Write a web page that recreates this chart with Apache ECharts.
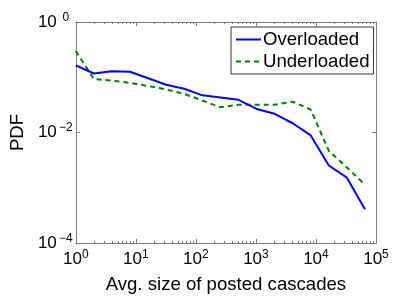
<!DOCTYPE html>
<html>
<head>
<meta charset="utf-8">
<script src="https://cdn.jsdelivr.net/npm/echarts@6/dist/echarts.min.js"></script>
<style>html,body{margin:0;padding:0;background:#fff}#c{width:415px;height:299px}</style>
</head>
<body>
<div id="c"></div>
<script>
// ---- data ----
const sizes = [1, 2, 4, 8, 16, 32, 64, 128, 256, 512, 1024, 2048, 4096, 8192, 16384, 32768, 65536];
const overloaded = [0.164, 0.117, 0.129, 0.126, 0.096, 0.073, 0.062, 0.047, 0.043, 0.039, 0.0267, 0.0218, 0.0147, 0.00886, 0.00253, 0.00152, 0.00041];
const underloaded = [0.298, 0.093, 0.087, 0.079, 0.0695, 0.060, 0.050, 0.038, 0.0286, 0.0319, 0.0319, 0.0319, 0.036, 0.026, 0.00464, 0.00233, 0.00113];
const xMajorTicks = [1, 10, 100, 1000, 10000, 100000];
const xMinorTicks = [];
[1, 10, 100, 1000, 10000].forEach(d => { for (let k = 2; k <= 9; k++) xMinorTicks.push(d * k); });
const yMajorTicks = [0.0001, 0.01, 1];
const seriesNames = ['Overloaded', 'Underloaded'];

const font = '"Liberation Sans", Arial, sans-serif';
const axisColor = '#7a7a7a';
function pow10Label(v) {
  const e = Math.round(Math.log10(v));
  return '{b|10}{s|' + (e < 0 ? '\u2212' + (-e) : e) + '}';
}
const richX = {
  b: { fontSize: 17, fontFamily: font, color: '#000' },
  s: { fontSize: 12, fontFamily: font, color: '#000', padding: [0, 0, 9, 0] }
};
const richY = {
  b: { fontSize: 17, fontFamily: font, color: '#000' },
  s: { fontSize: 12, fontFamily: font, color: '#000', padding: [0, 0, 9, 1], width: 16, align: 'left' }
};

const chart = echarts.init(document.getElementById('c'), null, { renderer: 'canvas' });
const mkPairs = arr => sizes.map((x, i) => [x, arr[i]]);

chart.setOption({
  animation: false,
  backgroundColor: '#fff',
  grid: { left: 63, right: 39, top: 22, bottom: 49, containLabel: false },
  legend: {
    left: 231, top: 27,
    orient: 'vertical',
    backgroundColor: '#fff',
    borderColor: '#333', borderWidth: 1, borderRadius: 0,
    padding: [3, 4, 3, 4],
    itemWidth: 25, itemHeight: 10, itemGap: 3,
    itemStyle: { opacity: 0 },
    textStyle: { fontSize: 18.6, fontFamily: font, color: '#000', padding: [0, 0, 0, -3] },
    data: seriesNames
  },
  xAxis: [
    {
      type: 'log', logBase: 10, min: 1, max: 100000,
      position: 'bottom',
      name: 'Avg. size of posted cascades', nameLocation: 'middle', nameGap: 32,
      nameTextStyle: { fontSize: 18.6, fontFamily: font, color: '#000' },
      axisLine: { show: true, lineStyle: { color: axisColor, width: 1 } },
      axisTick: { show: true, inside: true, length: 4, customValues: xMajorTicks, lineStyle: { color: axisColor } },
      axisLabel: { customValues: xMajorTicks, formatter: pow10Label, rich: richX, margin: 6 },
      splitLine: { show: false }, minorTick: { show: false }
    },
    {
      type: 'log', logBase: 10, min: 1, max: 100000,
      position: 'bottom',
      axisLine: { show: false },
      axisTick: { show: true, inside: true, length: 2, customValues: xMinorTicks, lineStyle: { color: axisColor } },
      axisLabel: { show: false }, splitLine: { show: false }
    },
    {
      type: 'log', logBase: 10, min: 1, max: 100000,
      position: 'top',
      axisLine: { show: true, lineStyle: { color: axisColor, width: 1 } },
      axisTick: { show: true, inside: true, length: 4, customValues: xMajorTicks, lineStyle: { color: axisColor } },
      axisLabel: { show: false }, splitLine: { show: false }
    },
    {
      type: 'log', logBase: 10, min: 1, max: 100000,
      position: 'top',
      axisLine: { show: false },
      axisTick: { show: true, inside: true, length: 2, customValues: xMinorTicks, lineStyle: { color: axisColor } },
      axisLabel: { show: false }, splitLine: { show: false }
    }
  ],
  yAxis: [
    {
      type: 'log', logBase: 10, min: 0.0001, max: 1,
      position: 'left',
      name: 'PDF', nameLocation: 'middle', nameGap: 44, nameRotate: 90,
      nameTextStyle: { fontSize: 18.6, fontFamily: font, color: '#000' },
      axisLine: { show: true, lineStyle: { color: axisColor, width: 1 } },
      axisTick: { show: true, inside: true, length: 4, customValues: yMajorTicks, lineStyle: { color: axisColor } },
      axisLabel: { customValues: yMajorTicks, formatter: pow10Label, rich: richY, margin: 2 },
      splitLine: { show: false }
    },
    {
      type: 'log', logBase: 10, min: 0.0001, max: 1,
      position: 'right',
      axisLine: { show: true, lineStyle: { color: axisColor, width: 1 } },
      axisTick: { show: true, inside: true, length: 4, customValues: yMajorTicks, lineStyle: { color: axisColor } },
      axisLabel: { show: false }, splitLine: { show: false }
    }
  ],
  series: [
    {
      name: seriesNames[0], type: 'line', xAxisIndex: 0, yAxisIndex: 0,
      data: mkPairs(overloaded), showSymbol: false, symbol: 'none',
      lineStyle: { color: '#0000ff', width: 2 }, itemStyle: { color: '#0000ff' }, z: 3
    },
    {
      name: seriesNames[1], type: 'line', xAxisIndex: 0, yAxisIndex: 0,
      data: mkPairs(underloaded), showSymbol: false, symbol: 'none',
      lineStyle: { color: '#008000', width: 2, type: [5, 4] }, itemStyle: { color: '#008000' }, z: 2
    }
  ]
});
</script>
</body>
</html>
